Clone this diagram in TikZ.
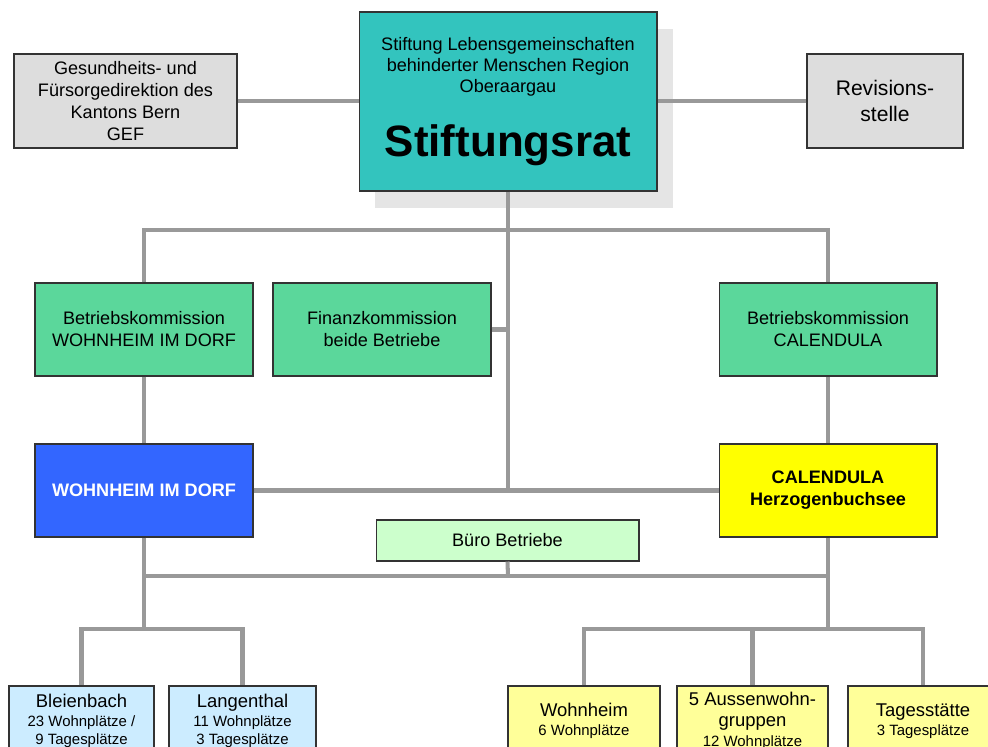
\documentclass[tikz,border=0pt]{standalone}
\usepackage{fontspec}
\setmainfont{Liberation Sans}
\usepackage{tikz}
\definecolor{grau}{HTML}{DDDDDD}
\definecolor{tuerkis}{HTML}{33C4BE}
\definecolor{gruen}{HTML}{5BD79B}
\definecolor{blau}{HTML}{3366FF}
\definecolor{gelb}{HTML}{FFFF00}
\definecolor{hellgelb}{HTML}{FFFF99}
\definecolor{hellblau}{HTML}{CCECFF}
\definecolor{hellgruen}{HTML}{CCFFCC}
\definecolor{linie}{HTML}{999999}
\definecolor{rahmen}{HTML}{333333}
\usetikzlibrary{shadows}
\tikzset{box/.style={
    draw=rahmen,
    line width=0.6pt,
    inner sep=0pt,
    align=center,
    font=\fontsize{10.3}{12.5}\selectfont},
  unterbox/.style={box,
    minimum width=2.96cm,
    minimum height=1.4cm,
    font=\fontsize{8.5}{10.2}\selectfont},
  link/.style={
    draw=linie,
    line width=2.3pt}}
\newcommand{\titel}[1]{{\fontsize{10.5}{12}\selectfont #1}}

\begin{document}
\begin{tikzpicture}[x=0.02cm, y=-0.02cm]
  \clip (0,0) rectangle (988,747);
  \coordinate (GEF) at (125.5,101);
\coordinate (RAT) at (508,101.5);
\coordinate (REV) at (885,101);
\coordinate (BKW) at (144,329.5);
\coordinate (FIN) at (382,329.5);
\coordinate (BKC) at (828,329.5);
\coordinate (WID) at (144,490.5);
\coordinate (CAL) at (828,490.5);
\coordinate (BUE) at (507.5,540.5);
\coordinate (ratsplit) at (508,230);
\coordinate (bueroline) at (508,576);
\coordinate (widsplit) at (144,629);
\coordinate (calsplit) at (828,629);

% oberste Ebene
\node[box,
  fill=grau,
  minimum width=4.46cm,
  minimum height=1.88cm] (gef) at (GEF) {Gesundheits- und\\F\"ursorgedirektion des\\Kantons Bern\\GEF};

\node[box,
  fill=tuerkis,
  minimum width=5.96cm,
  minimum height=3.58cm,
  drop shadow={shadow xshift=0.32cm, shadow yshift=-0.34cm, fill=black!10, opacity=1},
  font=\fontsize{10.3}{11.9}\selectfont] (rat) at (RAT)
  {Stiftung Lebensgemeinschaften\\behinderter Menschen Region\\Oberaargau\\[15pt]{\fontsize{25}{30}\selectfont\bfseries Stiftungsrat}};

\node[box,
  fill=grau,
  minimum width=3.12cm,
  minimum height=1.88cm,
  font=\fontsize{12}{14.7}\selectfont] (rev) at (REV) {Revisions-\\stelle};

% Kommissionen
\node[box,
  fill=gruen,
  minimum width=4.36cm,
  minimum height=1.86cm] (bkw) at (BKW) {Betriebskommission\\WOHNHEIM IM DORF};

\node[box,
  fill=gruen,
  minimum width=4.36cm,
  minimum height=1.86cm] (fin) at (FIN) {Finanzkommission\\beide Betriebe};

\node[box,
  fill=gruen,
  minimum width=4.36cm,
  minimum height=1.86cm] (bkc) at (BKC) {Betriebskommission\\CALENDULA};

% Betriebe
\node[box,
  fill=blau,
  text=white,
  minimum width=4.36cm,
  minimum height=1.86cm,
  font=\fontsize{10.3}{12.5}\selectfont\bfseries] (wid) at (WID) {WOHNHEIM IM DORF};

\node[box,
  fill=gelb,
  minimum width=4.36cm,
  minimum height=1.86cm,
  font=\fontsize{10.3}{12.5}\selectfont\bfseries] (cal) at (CAL) {CALENDULA\\Herzogenbuchsee};

\node[box,
  fill=hellgruen,
  minimum width=5.26cm,
  minimum height=0.82cm] (buero) at (BUE) {B\"uro Betriebe};

% Standorte
\node[unterbox, fill=hellblau, minimum width=2.9cm] (blei) at (81.5,721)
  {\titel{Bleienbach}\\[0.6pt]23 Wohnpl\"atze /\\9 Tagespl\"atze};
\node[unterbox, fill=hellblau, minimum width=2.94cm] (lang) at (242.5,721)
  {\titel{Langenthal}\\[0.6pt]11 Wohnpl\"atze\\3 Tagespl\"atze};
\node[unterbox, fill=hellgelb, minimum width=3.04cm] (wh) at (584,721)
  {\titel{Wohnheim}\\[0.6pt]6 Wohnpl\"atze};
\node[unterbox, fill=hellgelb, minimum width=3.02cm] (aus) at (752.5,721)
  {\titel{5 Aussenwohn-}\\[1.8pt]\titel{gruppen}\\[1.1pt]12 Wohnpl\"atze};
\node[unterbox, fill=hellgelb, minimum width=3.0cm] (tag) at (923,721)
  {\titel{Tagesst\"atte}\\[0.6pt]3 Tagespl\"atze};

% Verbindungen
\draw[link] (gef.east) -- (gef.east -| rat.west);
\draw[link] (rev.west) -- (rev.west -| rat.east);
\draw[link] (rat.south) -- (rat.south |- wid.east);
\draw[link] (bkw.north) |- (ratsplit) -| (bkc.north);
\draw[link] (fin.east) -- (fin.east -| rat.south);
\draw[link] (bkw.south) -- (wid.north);
\draw[link] (bkc.south) -- (cal.north);
\draw[link] (wid.east) -- (cal.west);
\draw[link] (wid.south) -- (widsplit);
\draw[link] (wid.south |- bueroline) -- (cal.south |- bueroline);
\draw[link] (buero.south) -- (bueroline);
\draw[link] (cal.south) -- (calsplit);
\draw[link] (blei.north) |- (widsplit) -| (lang.north);
\draw[link] (wh.north) |- (calsplit) -| (tag.north);
\draw[link] (aus.north) -- (aus.north |- calsplit);

\end{tikzpicture}
\end{document}
